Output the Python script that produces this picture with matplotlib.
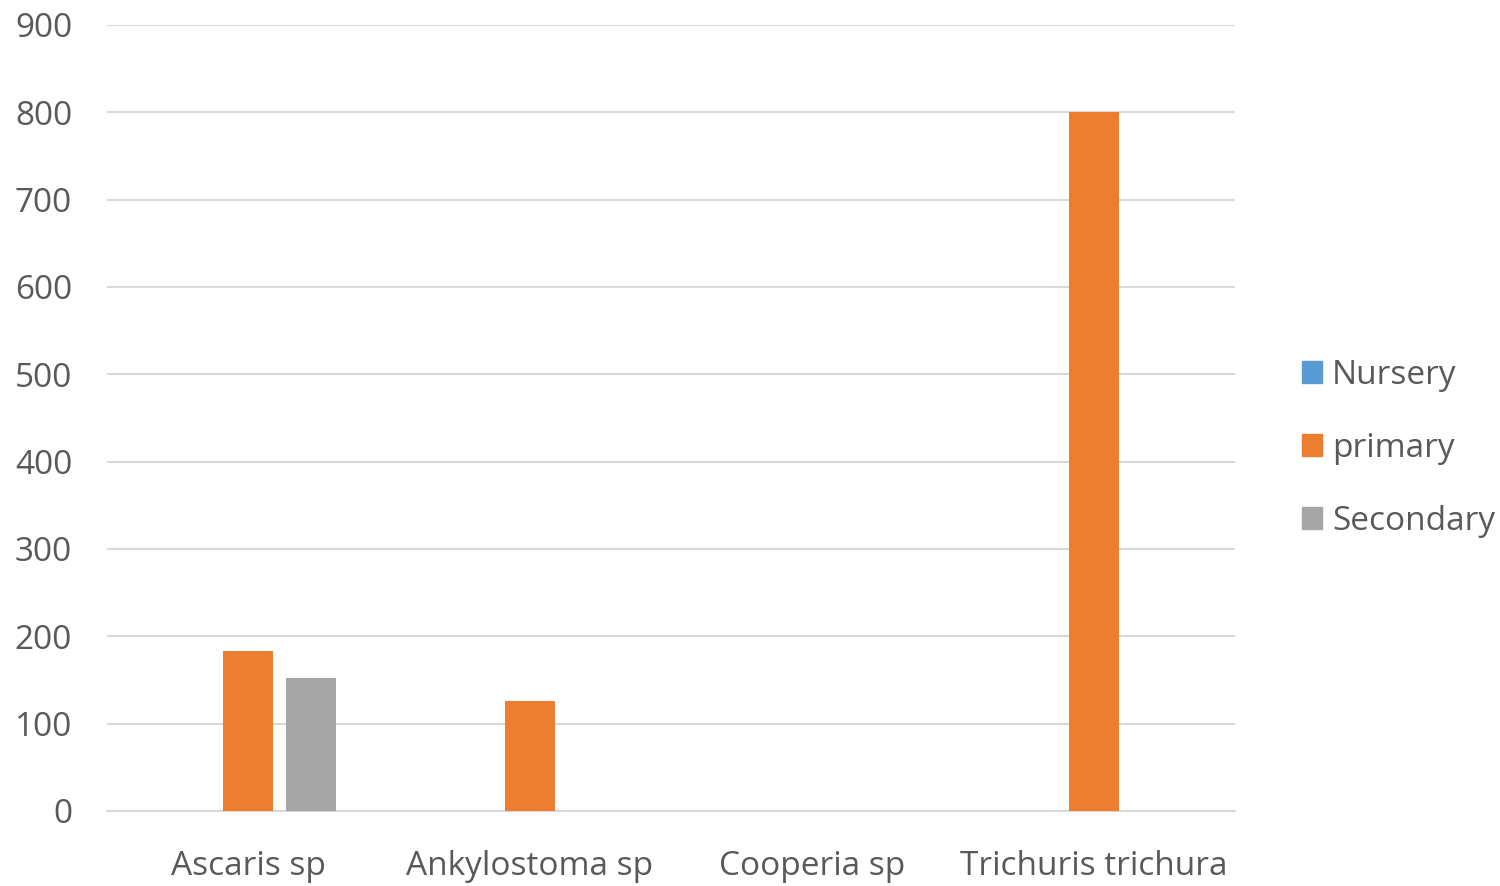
import numpy as np
import matplotlib.pyplot as plt
from matplotlib.patches import Patch

# Data
categories = ["Ascaris sp", "Ankylostoma sp", "Cooperia sp", "Trichuris trichura"]
series_names = ["Nursery", "primary", "Secondary"]
nursery = [0, 0, 0, 0]
primary = [183, 126, 0, 800]
secondary = [152, 0, 0, 0]
colors = ["#5B9BD5", "#ED7D31", "#A5A5A5"]

plt.rcParams['font.family'] = ['Open Sans', 'DejaVu Sans']
text_color = "#595959"

fig = plt.figure(figsize=(15, 8.86), dpi=100)
ax = fig.add_axes([0.0713, 0.0847, 0.7520, 0.8871])

x = np.arange(len(categories))
width = 0.177
offset = 0.223
for i, (vals, col) in enumerate(zip([nursery, primary, secondary], colors)):
    ax.bar(x + (i - 1) * offset, vals, width, color=col, zorder=3)

ax.set_xlim(-0.5, len(categories) - 0.5)
ax.set_ylim(0, 900)
ax.set_yticks(range(0, 1000, 100))
ax.set_xticks(x)
ax.set_xticklabels(categories)
ax.yaxis.grid(True, color="#D9D9D9", linewidth=1.5, zorder=0)
for s in ["top", "right", "left"]:
    ax.spines[s].set_visible(False)
ax.spines["bottom"].set_color("#D9D9D9")
ax.spines["bottom"].set_linewidth(1.5)
ax.tick_params(axis="both", length=0, colors=text_color, labelsize=24)
ax.tick_params(axis="y", pad=25)
ax.tick_params(axis="x", pad=28)

handles = [Patch(color=c) for c in colors]
fig.legend(handles, series_names, loc="center left", bbox_to_anchor=(0.868, 0.494),
           frameon=False, fontsize=24, labelcolor=text_color, borderaxespad=0,
           borderpad=0, handlelength=0.6, handleheight=0.6, handletextpad=0.3,
           labelspacing=1.2)

fig.savefig("out.png", dpi=100)
